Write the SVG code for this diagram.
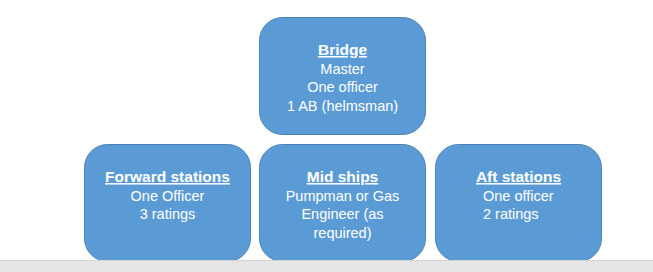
<svg xmlns="http://www.w3.org/2000/svg" width="653" height="272" viewBox="0 0 653 272">
<style>
.box{fill:#5b9bd5;stroke:#4f83b5;stroke-width:1}
.t{font-family:"Liberation Sans",Arial,sans-serif;font-size:14.5px;fill:#ffffff}
.h{font-weight:bold;text-decoration:underline;font-size:15.5px}
.c{text-anchor:middle}
</style>
<rect x="0" y="0" width="653" height="272" fill="#ffffff"/>
<g id="connectors"></g>
<g id="bridge">
<rect class="box" x="259.5" y="17.5" width="166" height="117" rx="23" ry="23"/>
<text class="t c h" x="342.5" y="55">Bridge</text>
<text class="t c" x="342.5" y="73.5">Master</text>
<text class="t c" x="342.5" y="92">One officer</text>
<text class="t c" x="342.5" y="110.5">1 AB (helmsman)</text>
</g>
<g id="forward">
<rect class="box" x="84.5" y="144.5" width="166" height="117" rx="23" ry="23"/>
<text class="t c h" x="167.5" y="182">Forward stations</text>
<text class="t c" x="167.5" y="200.5">One Officer</text>
<text class="t c" x="167.5" y="219">3 ratings</text>
</g>
<g id="midships">
<rect class="box" x="259.5" y="144.5" width="166" height="117" rx="23" ry="23"/>
<text class="t c h" x="342.5" y="182">Mid ships</text>
<text class="t c" x="342.5" y="200.5">Pumpman or Gas</text>
<text class="t c" x="342.5" y="219">Engineer (as</text>
<text class="t c" x="342.5" y="237.5">required)</text>
</g>
<g id="aft">
<rect class="box" x="435.5" y="144.5" width="166" height="117" rx="23" ry="23"/>
<text class="t c h" x="518.5" y="182">Aft stations</text>
<text class="t" x="483" y="200.5">One officer</text>
<text class="t" x="483" y="219">2 ratings</text>
</g>
<rect x="0" y="261" width="653" height="11" fill="#e6e6e6"/>
<line x1="0" y1="260.5" x2="653" y2="260.5" stroke="#d4d4d4" stroke-width="1"/>
</svg>
